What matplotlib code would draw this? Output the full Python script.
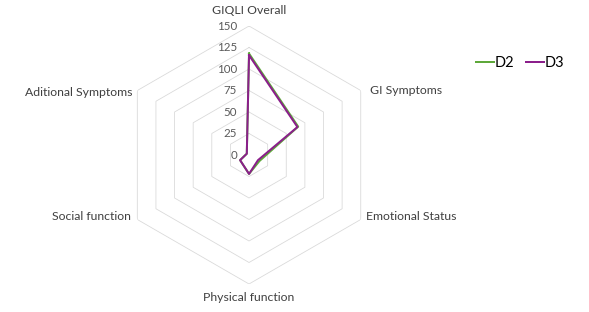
import numpy as np
import matplotlib.pyplot as plt

categories = ['GIQLI Overall', 'GI Symptoms', 'Emotional Status',
              'Physical function', 'Social function', 'Aditional Symptoms']
d2 = [118, 66, 14, 22, 12, 3]
d3 = [116, 65, 12, 22, 12, 3]
levels = [0, 25, 50, 75, 100, 125, 150]

plt.rcParams['font.family'] = ['Lato', 'DejaVu Sans']

fig = plt.figure(figsize=(589 / 72, 312 / 72), dpi=72)
ax = fig.add_axes([0.4228 - 0.219, 0.5032 - 0.4135, 0.438, 0.827], polar=True)
ax.set_theta_zero_location('N')
ax.set_theta_direction(-1)

n = len(categories)
angles = np.arange(n) * 2 * np.pi / n
closed = np.append(angles, angles[0])

# hexagon gridlines
for lv in levels[1:]:
    ax.plot(closed, [lv] * (n + 1), color='#d9d9d9', lw=0.8, zorder=1)

ax.plot(closed, d2 + d2[:1], color='#5ea83a', lw=2, label='D2', zorder=3)
ax.plot(closed, d3 + d3[:1], color='#8b1f8b', lw=2, label='D3', zorder=4)

ax.set_ylim(0, 150)
ax.grid(False)
ax.spines['polar'].set_visible(False)
ax.set_xticks([])
ax.set_yticks([])

# value labels on the vertical axis
for lv in levels:
    ax.annotate(str(lv), xy=(0, lv), xytext=(-12, 0), textcoords='offset points',
                ha='right', va='center', fontsize=11.5, color='#595959')

# category labels
offsets = [(0, 16, 'center', 'center'), (9, 0, 'left', 'center'),
           (5, 3, 'left', 'center'), (0, -14, 'center', 'center'),
           (-6, 3, 'right', 'center'), (-5, -2, 'right', 'center')]
for ang, name, (dx, dy, ha, va) in zip(angles, categories, offsets):
    ax.annotate(name, xy=(ang, 150), xytext=(dx, dy), textcoords='offset points',
                ha=ha, va=va, fontsize=12.2, color='#404040')

fig.legend(loc='center', bbox_to_anchor=(520 / 589, 1 - 63 / 312), ncol=2,
           frameon=False, fontsize=14.5, handlelength=1.25, handletextpad=0.05,
           columnspacing=0.8)

fig.savefig('out.png', dpi=72)
